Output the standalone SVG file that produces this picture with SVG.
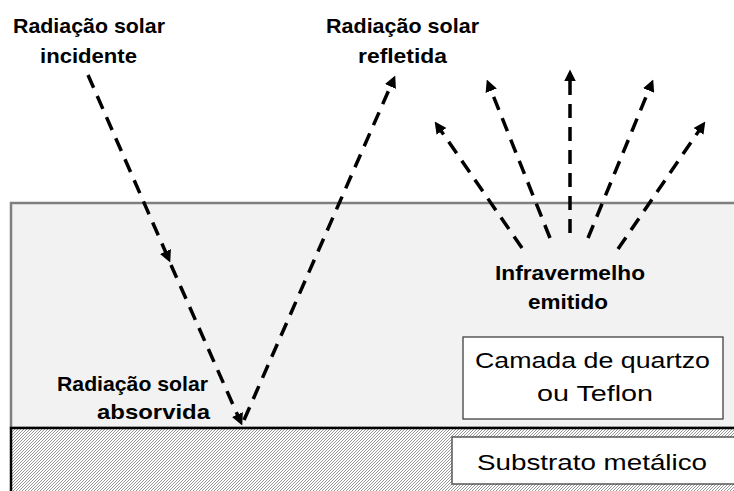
<svg xmlns="http://www.w3.org/2000/svg" width="734" height="491" viewBox="0 0 734 491">
<defs>
<style>
.lbl{font-family:"Liberation Sans",Arial,sans-serif;font-weight:bold;font-size:20.5px;fill:#000}
.reg{font-family:"Liberation Sans",Arial,sans-serif;font-size:22px;fill:#000}
.ray{stroke:#000;stroke-width:3.5;stroke-dasharray:14 9;fill:none;marker-end:url(#ah)}
.box{fill:#fff;stroke:#404040;stroke-width:1.3}
</style>
<marker id="ah" markerUnits="userSpaceOnUse" markerWidth="12" markerHeight="12" viewBox="0 0 11 11" refX="5" refY="5.5" orient="auto">
<path d="M0,0 L11,5.5 L0,11 z" fill="#000"/>
</marker>
<pattern id="hatch" patternUnits="userSpaceOnUse" width="3" height="3">
<rect width="3" height="3" fill="#fff"/>
<path d="M-1,1 L1,-1 M0,3 L3,0 M2,4 L4,2" stroke="#8c8c8c" stroke-width="0.9"/>
</pattern>
</defs>

<g id="quartz-layer">
<rect x="11" y="203" width="740" height="225" fill="#f2f2f2" stroke="#7f7f7f" stroke-width="2.5"/>
</g>
<g id="substrate-layer">
<rect x="11" y="428" width="740" height="80" fill="url(#hatch)" stroke="#000" stroke-width="2.5"/>
</g>

<g id="connectors">
<line class="ray" x1="88" y1="75" x2="167.6" y2="256.5"/>
<line class="ray" x1="171" y1="265" x2="239.6" y2="419.5"/>
<line class="ray" x1="244" y1="420" x2="392.6" y2="81.5"/>
<line class="ray" x1="522" y1="248" x2="438.4" y2="126.9"/>
<line class="ray" x1="550" y1="238" x2="489.2" y2="85.6"/>
<line class="ray" x1="570" y1="233" x2="570" y2="76"/>
<line class="ray" x1="588" y1="238" x2="650.7" y2="85.5"/>
<line class="ray" x1="618" y1="249" x2="701.6" y2="126.9"/>
</g>

<g id="label-incidente">
<text class="lbl" x="13" y="33" textLength="152" lengthAdjust="spacingAndGlyphs">Radiação solar</text>
<text class="lbl" x="40" y="63" textLength="97" lengthAdjust="spacingAndGlyphs">incidente</text>
</g>
<g id="label-refletida">
<text class="lbl" x="326" y="33" textLength="153" lengthAdjust="spacingAndGlyphs">Radiação solar</text>
<text class="lbl" x="358" y="63" textLength="89" lengthAdjust="spacingAndGlyphs">refletida</text>
</g>
<g id="label-infravermelho">
<text class="lbl" x="495" y="280" textLength="150" lengthAdjust="spacingAndGlyphs">Infravermelho</text>
<text class="lbl" x="528" y="309" textLength="80" lengthAdjust="spacingAndGlyphs">emitido</text>
</g>
<g id="label-absorvida">
<text class="lbl" x="57" y="391" textLength="151" lengthAdjust="spacingAndGlyphs">Radiação solar</text>
<text class="lbl" x="97" y="419" textLength="113" lengthAdjust="spacingAndGlyphs">absorvida</text>
</g>

<g id="box-quartzo">
<rect class="box" x="463" y="337" width="260" height="82"/>
<text class="reg" x="475" y="368" textLength="235" lengthAdjust="spacingAndGlyphs">Camada de quartzo</text>
<text class="reg" x="537" y="401" textLength="116" lengthAdjust="spacingAndGlyphs">ou Teflon</text>
</g>
<g id="box-substrato">
<rect class="box" x="452" y="437" width="290" height="47"/>
<text class="reg" x="477" y="470" textLength="230" lengthAdjust="spacingAndGlyphs">Substrato metálico</text>
</g>
</svg>
